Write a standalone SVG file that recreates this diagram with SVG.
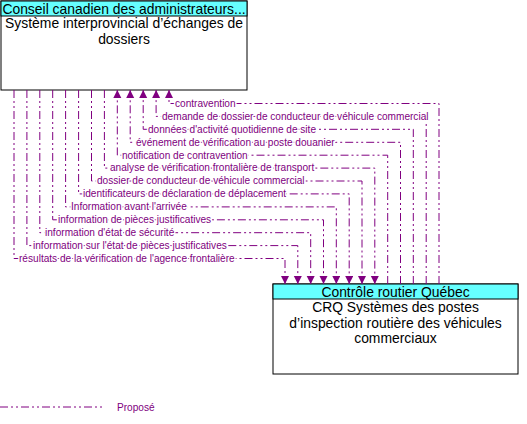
<svg xmlns="http://www.w3.org/2000/svg" width="527" height="424" viewBox="0 0 527 424">
<style>
.box{fill:#fff;stroke:#000;stroke-width:1}
.hdr{fill:#66ffff;stroke:#000;stroke-width:1}
.nt{font-family:"Liberation Sans",Arial,sans-serif;font-size:13.9px;fill:#000;text-anchor:middle}
.flow{fill:none;stroke:#800080;stroke-width:1;stroke-dasharray:8,3,2,3,2,3}
.lbl{font-family:"Liberation Sans",Arial,sans-serif;font-size:10.1px;fill:#800080;stroke:#fff;stroke-width:3;paint-order:stroke;stroke-linejoin:round}
</style>
<defs>
<marker id="ah" markerUnits="userSpaceOnUse" markerWidth="9" markerHeight="9" refX="8" refY="4" orient="auto">
<path d="M0,0 L8,4 L0,8 z" fill="#800080"/>
</marker>
</defs>
<g id="node-ccma">
<rect class="box" x="1" y="1" width="246" height="89"/>
<rect class="hdr" x="1" y="1" width="246" height="15"/>
<text class="nt" x="124" y="13.5">Conseil canadien des administrateurs...</text>
<text class="nt" x="124" y="28">Système interprovincial d’échanges de</text>
<text class="nt" x="124" y="44">dossiers</text>
</g>
<g id="node-crq">
<rect class="box" x="273" y="284" width="245" height="90"/>
<rect class="hdr" x="273" y="284" width="245" height="15"/>
<text class="nt" x="395.5" y="296.5">Contrôle routier Québec</text>
<text class="nt" x="395.5" y="312">CRQ Systèmes des postes</text>
<text class="nt" x="395.5" y="327.5">d’inspection routière des véhicules</text>
<text class="nt" x="395.5" y="343">commerciaux</text>
</g>
<g id="connectors">
<path class="flow" marker-end="url(#ah)" d="M439,284 V103.5 H169 V90"/>
<path class="flow" marker-end="url(#ah)" d="M426.2,284 V116.4 H156.1 V90"/>
<path class="flow" marker-end="url(#ah)" d="M413.3,284 V129.3 H143.2 V90"/>
<path class="flow" marker-end="url(#ah)" d="M400.5,284 V142.3 H130.2 V90"/>
<path class="flow" marker-end="url(#ah)" d="M387.7,284 V155.2 H117.3 V90"/>
<path class="flow" marker-end="url(#ah)" d="M104.4,90 V168.1 H374.8 V284"/>
<path class="flow" marker-end="url(#ah)" d="M91.5,90 V181 H362 V284"/>
<path class="flow" marker-end="url(#ah)" d="M78.6,90 V193.9 H349.2 V284"/>
<path class="flow" marker-end="url(#ah)" d="M65.6,90 V206.9 H336.3 V284"/>
<path class="flow" marker-end="url(#ah)" d="M52.7,90 V219.8 H323.5 V284"/>
<path class="flow" marker-end="url(#ah)" d="M39.8,90 V232.7 H310.7 V284"/>
<path class="flow" marker-end="url(#ah)" d="M26.9,90 V245.6 H297.8 V284"/>
<path class="flow" marker-end="url(#ah)" d="M14,90 V258.5 H285 V284"/>
<text class="lbl" x="175" y="106.8">contravention</text>
<text class="lbl" x="162" y="119.7">demande de dossier de conducteur de véhicule commercial</text>
<text class="lbl" x="148" y="132.6">données d'activité quotidienne de site</text>
<text class="lbl" x="136" y="145.6">événement de vérification au poste douanier</text>
<text class="lbl" x="122" y="158.5">notification de contravention</text>
<text class="lbl" x="110" y="171.4">analyse de vérification frontalière de transport</text>
<text class="lbl" x="97" y="184.3">dossier de conducteur de véhicule commercial</text>
<text class="lbl" x="83" y="197.2">identificateurs de déclaration de déplacement</text>
<text class="lbl" x="71" y="210.2">Information avant l'arrivée</text>
<text class="lbl" x="58" y="223.1">information de pièces justificatives</text>
<text class="lbl" x="45" y="236">information d'état de sécurité</text>
<text class="lbl" x="33" y="248.9">information sur l'état de pièces justificatives</text>
<text class="lbl" x="19" y="261.8">résultats de la vérification de l'agence frontalière</text>
</g>
<g id="legend">
<path class="flow" d="M0,407 H104"/>
<text x="117" y="410.5" style="font-family:'Liberation Sans',Arial,sans-serif;font-size:10.1px;fill:#800080">Proposé</text>
</g>
</svg>
